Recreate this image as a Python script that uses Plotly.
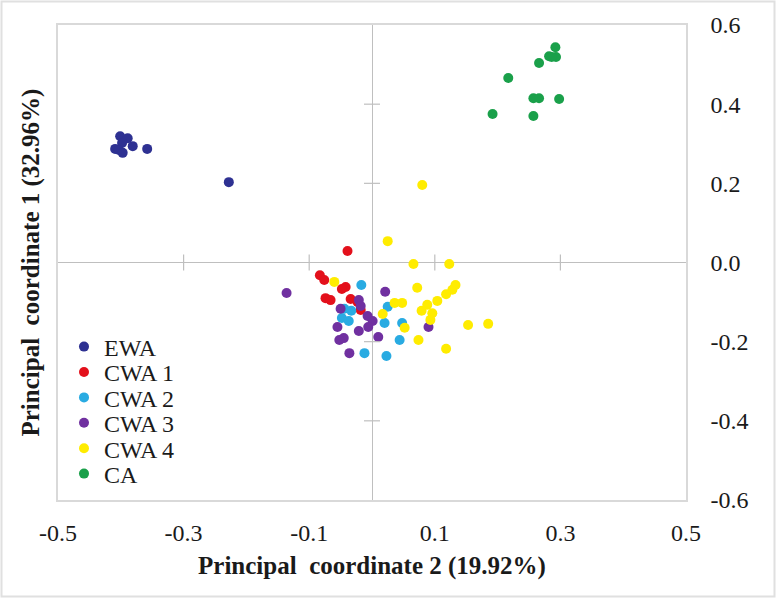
import plotly.graph_objects as go

# PCoA coordinates (x = PC2, y = PC1)
ewa_x = [-0.401, -0.389, -0.398, -0.409, -0.403, -0.397, -0.381, -0.358, -0.228]
ewa_y = [0.319, 0.314, 0.302, 0.287, 0.284, 0.277, 0.294, 0.287, 0.203]

cwa1_x = [-0.039, -0.083, -0.076, -0.042, -0.048, -0.074, -0.066, -0.034, -0.023, -0.018]
cwa1_y = [0.029, -0.032, -0.044, -0.062, -0.067, -0.090, -0.095, -0.092, -0.100, -0.120]

cwa2_x = [-0.017, -0.044, -0.048, -0.037, -0.033, 0.025, 0.020, 0.048, 0.044, -0.012, 0.023]
cwa2_y = [-0.057, -0.117, -0.140, -0.148, -0.122, -0.112, -0.153, -0.153, -0.196, -0.229, -0.236]

cwa3_x = [-0.136, 0.021, -0.050, -0.021, -0.018, -0.007, 0.001, -0.055, -0.021, -0.006,
          -0.045, -0.052, 0.010, -0.036, 0.090]
cwa3_y = [-0.077, -0.074, -0.117, -0.095, -0.110, -0.135, -0.148, -0.163, -0.173, -0.163,
          -0.191, -0.196, -0.188, -0.229, -0.163]

cwa4_x = [0.080, 0.025, 0.066, 0.123, -0.060, 0.072, 0.133, 0.128, 0.118, 0.104, 0.088,
          0.079, 0.036, 0.048, 0.017, 0.096, 0.093, 0.052, 0.074, 0.118, 0.153, 0.185]
cwa4_y = [0.196, 0.054, -0.004, -0.004, -0.049, -0.064, -0.057, -0.069, -0.080, -0.097, -0.107,
          -0.122, -0.102, -0.102, -0.130, -0.128, -0.145, -0.165, -0.196, -0.218, -0.158, -0.155]

ca_x = [0.292, 0.282, 0.293, 0.286, 0.266, 0.217, 0.257, 0.266, 0.298, 0.192, 0.257]
ca_y = [0.544, 0.521, 0.519, 0.519, 0.504, 0.466, 0.415, 0.415, 0.413, 0.375, 0.370]

x_ticks = [-0.5, -0.3, -0.1, 0.1, 0.3, 0.5]
y_ticks = [-0.6, -0.4, -0.2, 0.0, 0.2, 0.4, 0.6]
y_ticklabels = ["-0.6", "-0.4", "-0.2", "0.0", "0.2", "0.4", "0.6"]

groups = [
    ("EWA", ewa_x, ewa_y, "#2e3192"),
    ("CWA 1", cwa1_x, cwa1_y, "#e3101b"),
    ("CWA 2", cwa2_x, cwa2_y, "#29abe2"),
    ("CWA 3", cwa3_x, cwa3_y, "#7030a0"),
    ("CWA 4", cwa4_x, cwa4_y, "#ffec00"),
    ("CA", ca_x, ca_y, "#1aa04a"),
]

serif = "Liberation Serif, Times New Roman, serif"
txt = "#1a1a1a"

W, H = 776, 598
ml, mr, mt, mb = 58, 90, 25, 98
pw, ph = W - ml - mr, H - mt - mb

fig = go.Figure()
legends = {}
for i, (name, xs, ys, col) in enumerate(groups):
    key = "legend" if i == 0 else f"legend{i + 1}"
    fig.add_trace(go.Scatter(
        x=xs, y=ys, mode="markers", name=name, legend=key,
        marker=dict(size=10, color=col, line=dict(width=0)),
    ))
    # one legend per entry so the rows can sit as tightly as in the original
    row_px = 347 + i * 25.4
    legends[key] = dict(
        x=(64 - ml) / pw, y=1 - (row_px - mt) / ph, xanchor="left", yanchor="middle",
        font=dict(family=serif, size=24, color=txt), bgcolor="rgba(0,0,0,0)",
        itemsizing="trace", borderwidth=0,
    )

# cross-shaped tick marks on the zero lines
shapes = []
for t in x_ticks[1:-1]:
    shapes.append(dict(type="line", xref="x", yref="y", ysizemode="pixel", yanchor=0,
                       x0=t, x1=t, y0=-8, y1=8, line=dict(color="#bfbfbf", width=1.2)))
for t in y_ticks[1:-1]:
    if t == 0:
        continue
    shapes.append(dict(type="line", xref="x", yref="y", xsizemode="pixel", xanchor=0,
                       y0=t, y1=t, x0=-8, x1=8, line=dict(color="#bfbfbf", width=1.2)))

# light border around the whole picture
shapes.append(dict(type="rect", xref="paper", yref="paper",
                   x0=(-ml + 1.5) / pw, x1=(pw + mr - 1.5) / pw,
                   y0=(-mb + 1.5) / ph, y1=(ph + mt - 1.5) / ph,
                   line=dict(color="#e0e0e0", width=2), layer="below"))

fig.update_layout(
    width=W, height=H,
    margin=dict(l=ml, r=mr, t=mt, b=mb, autoexpand=False),
    paper_bgcolor="white", plot_bgcolor="white",
    font=dict(family=serif, color=txt),
    shapes=shapes,
    showlegend=True,
    xaxis=dict(
        range=[-0.5, 0.5], tickvals=x_ticks, ticktext=[f"{t:.1f}" for t in x_ticks],
        showgrid=False, zeroline=True, zerolinecolor="#bfbfbf", zerolinewidth=1.2,
        showline=True, mirror=True, linecolor="#d9d9d9", linewidth=1.5,
        ticks="", ticklabelstandoff=10,
        tickfont=dict(family=serif, size=24, color=txt),
        title=dict(text="<b>Principal  coordinate 2 (19.92%)</b>",
                   font=dict(family=serif, size=25, color=txt), standoff=12),
    ),
    yaxis=dict(
        range=[-0.6, 0.6], tickvals=y_ticks, ticktext=y_ticklabels, side="right",
        showgrid=False, zeroline=True, zerolinecolor="#bfbfbf", zerolinewidth=1.2,
        showline=True, mirror=True, linecolor="#d9d9d9", linewidth=1.5,
        ticks="", ticklabelstandoff=18,
        tickfont=dict(family=serif, size=24, color=txt),
    ),
    annotations=[dict(
        text="<b>Principal  coordinate 1 (32.96%)</b>", textangle=-90,
        xref="paper", yref="paper", x=(30 - ml) / pw, y=0.5,
        xanchor="center", yanchor="middle", showarrow=False,
        font=dict(family=serif, size=25, color=txt),
    )],
    **legends,
)

fig.write_html("out.html", config={"displayModeBar": False},
               post_script="document.body.style.margin='0px';")
